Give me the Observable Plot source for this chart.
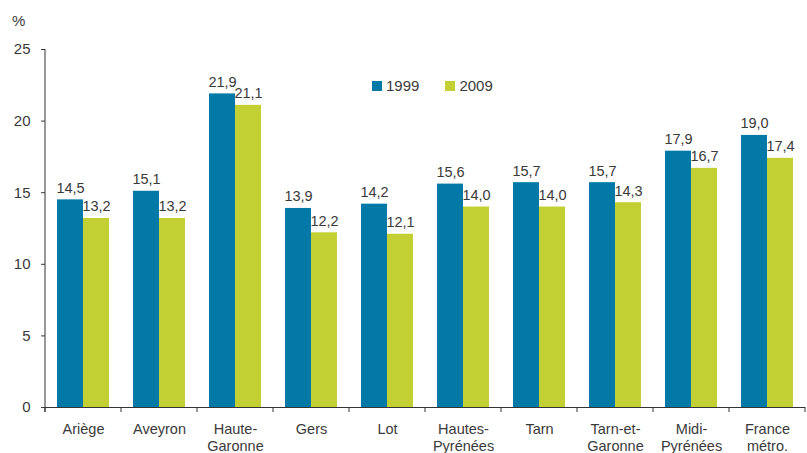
<!DOCTYPE html>
<html><head><meta charset="utf-8">
<script src="https://cdn.jsdelivr.net/npm/d3@7"></script>
<script src="https://cdn.jsdelivr.net/npm/@observablehq/plot@0.6"></script>
<style>
body{margin:0;background:#fff;font-family:"Liberation Sans",Arial,sans-serif;}
#wrap{position:relative;width:807px;height:453px;}
#legend{position:absolute;left:372px;top:77px;display:flex;gap:26px;font-size:15px;color:#3a3a3a;}
#legend span.sw{display:inline-block;width:10px;height:10px;margin-right:4px;vertical-align:0px;}
#pct{position:absolute;left:12px;top:12px;font-size:15px;color:#3a3a3a;}
</style></head>
<body><div id="wrap"><div id="pct">%</div><div id="legend"></div></div>
<script>
const categories = ["Ariège","Aveyron","Haute-\nGaronne","Gers","Lot","Hautes-\nPyrénées","Tarn","Tarn-et-\nGaronne","Midi-\nPyrénées","France\nmétro."];
const v1999 = [14.5,15.1,21.9,13.9,14.2,15.6,15.7,15.7,17.9,19.0];
const v2009 = [13.2,13.2,21.1,12.2,12.1,14.0,14.0,14.3,16.7,17.4];
const yTicks = [0,5,10,15,20,25];
const series = ["1999","2009"];
const colors = ["#0279a6","#c3d033"];

const data = [];
categories.forEach((c,i)=>{
  data.push({cat:c, year:"1999", v:v1999[i]});
  data.push({cat:c, year:"2009", v:v2009[i]});
});
const fmt = v => d3.format(".1f")(v).replace(".", ",");
const W = 807, H = 453, mL = 44, mR = 1;

const chart = Plot.plot({
  width: W, height: H,
  marginLeft: mL, marginRight: mR, marginTop: 49, marginBottom: 46,
  style: {fontFamily: '"Liberation Sans", Arial, sans-serif', fontSize: "14.5px", color: "#3a3a3a", background: "transparent"},
  fx: {domain: categories, padding: 0, axis: null},
  x: {domain: series, paddingInner: 0, paddingOuter: 0.46, axis: null},
  y: {domain: [0,25], ticks: yTicks},
  color: {domain: series, range: colors},
  marks: [
    Plot.barY(data, {fx: "cat", x: "year", y: "v", fill: "year"}),
    Plot.text(data, {fx: "cat", x: "year", y: "v", text: d => fmt(d.v), lineAnchor: "bottom", dy: -7, fill: "#3a3a3a", fontSize: 14.5}),
    Plot.axisY({ticks: yTicks, tickSize: 4, tickPadding: 11, label: null, tickFormat: d => d, fontSize: 15}),
    Plot.ruleY([0], {stroke: "#333"}),
    Plot.axisFx({anchor: "bottom", tickSize: 0, tickPadding: 15, label: null, fontSize: 14.5, lineHeight: 1.15})
  ]
});
document.getElementById("wrap").prepend(chart);

// separators at category boundaries and y-axis line, drawn via scales
const fx = chart.scale("fx"), y = chart.scale("y");
const svg = d3.select(chart.tagName === "svg" ? chart : chart.querySelector("svg"));
const bounds = categories.map(c => fx.apply(c)).concat([fx.apply(categories[categories.length-1]) + fx.bandwidth]);
const y0 = y.apply(0), yTop = y.apply(25);
svg.append("g").attr("stroke", "#333").selectAll("line").data(bounds).join("line")
  .attr("x1", d => d).attr("x2", d => d).attr("y1", y0).attr("y2", y0 + 5);
svg.append("line").attr("stroke","#333").attr("x1", bounds[0]).attr("x2", bounds[0]).attr("y1", yTop).attr("y2", y0 + 5);

const lg = document.getElementById("legend");
series.forEach((s,i)=>{
  const d = document.createElement("div");
  d.innerHTML = `<span class="sw" style="background:${colors[i]}"></span>${s}`;
  lg.appendChild(d);
});
</script></body></html>
